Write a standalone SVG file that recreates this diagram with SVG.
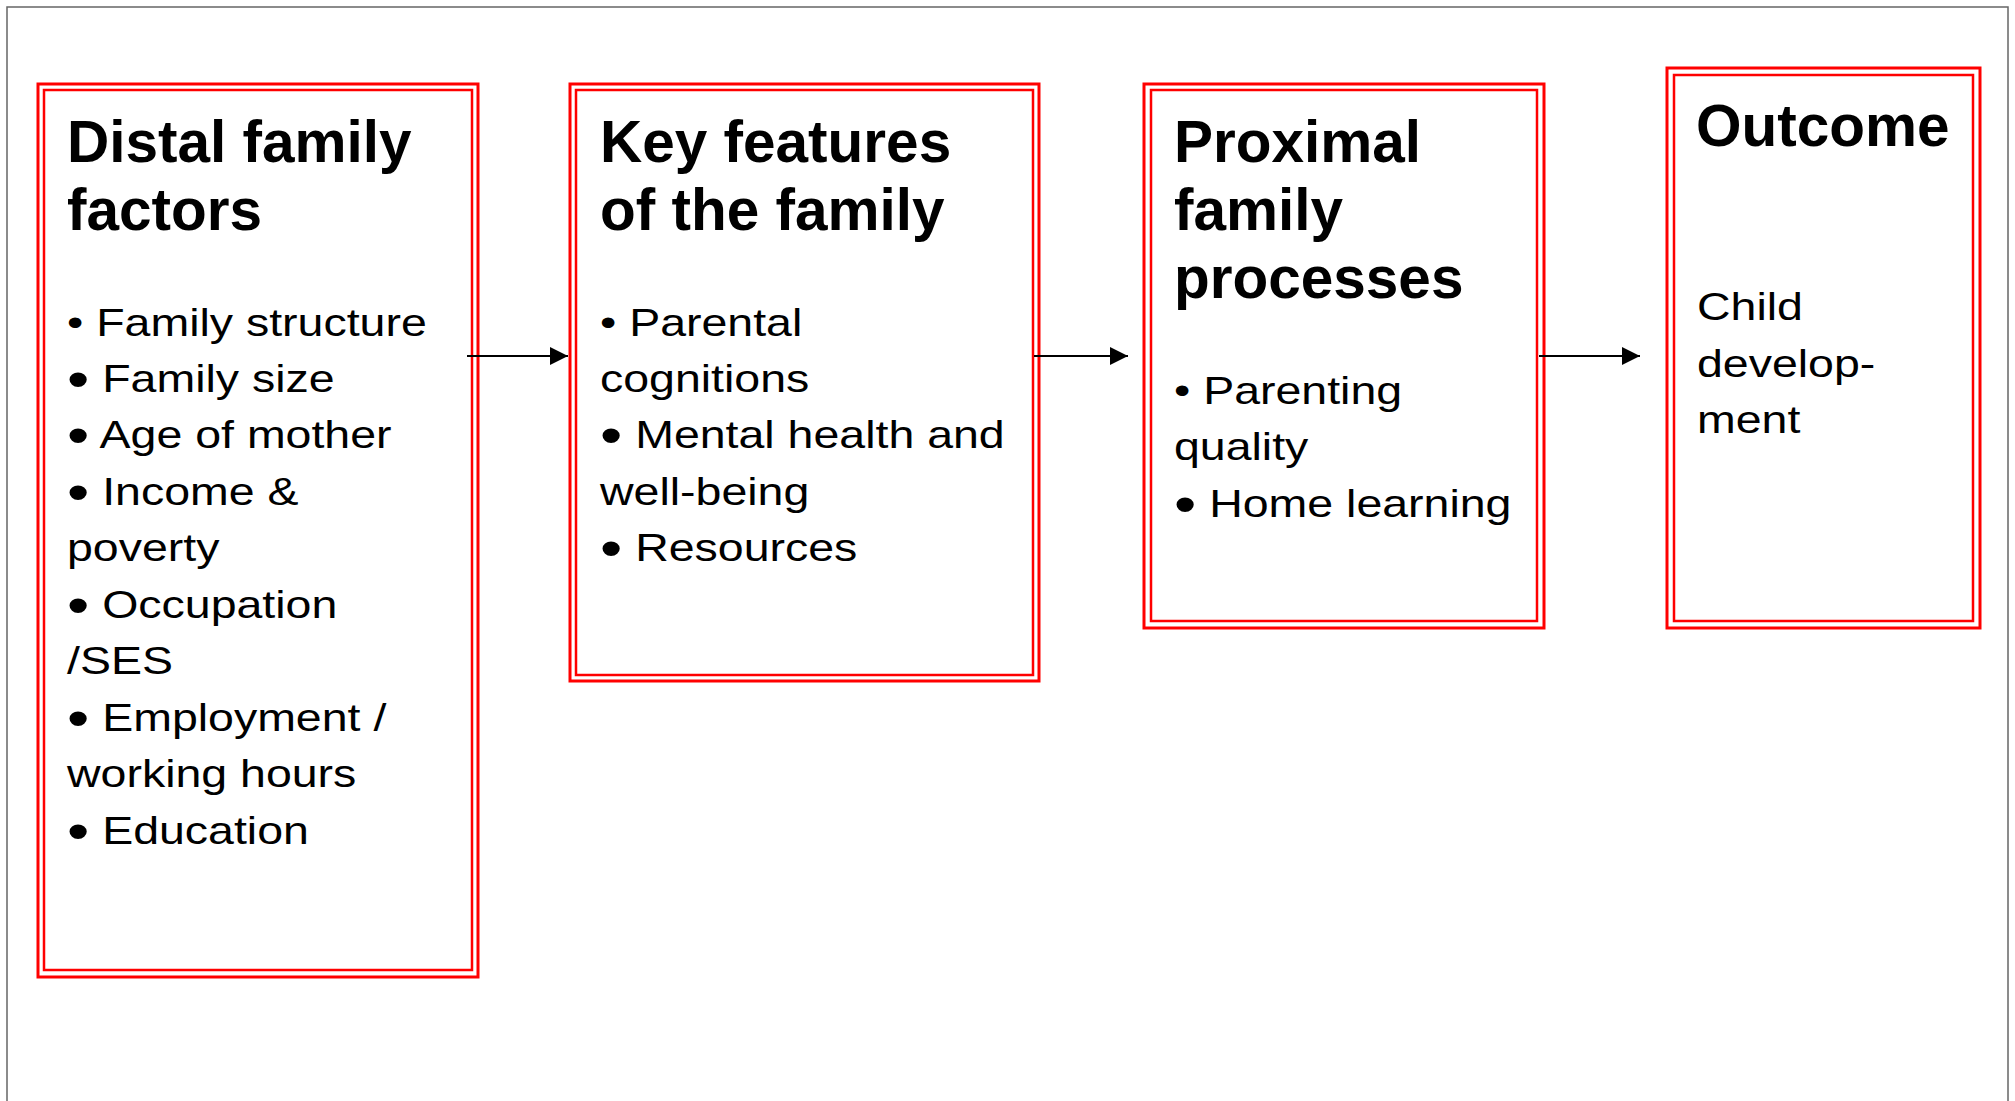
<svg xmlns="http://www.w3.org/2000/svg" width="2015" height="1101" viewBox="0 0 2015 1101">
<style>
.o{fill:none;stroke:#ff0000;stroke-width:3}
.i{fill:none;stroke:#ff0000;stroke-width:2.5}
.t{font-family:"Liberation Sans",Arial,sans-serif;font-weight:bold;font-size:58.5px;fill:#000}
.b{font-family:"Liberation Sans",Arial,sans-serif;font-size:39.5px;fill:#000}
.bl{font-size:54px}
.c{stroke:#000;stroke-width:2;fill:none}
</style>
<defs>
<marker id="ah" markerUnits="userSpaceOnUse" markerWidth="18" markerHeight="18" viewBox="0 0 16 16" refX="16" refY="8" orient="auto">
<path d="M0,0 L16,8 L0,16 Z" fill="#000"/>
</marker>
</defs>
<rect width="2015" height="1101" fill="#fff"/>
<rect x="7" y="7" width="2001" height="1110" fill="none" stroke="#666" stroke-width="1.5"/>
<g id="distal">
<rect class="o" x="38" y="84" width="440" height="893"/>
<rect class="i" x="44" y="90" width="428" height="880"/>
<text class="t" x="67" y="162">Distal family</text>
<text class="t" x="67" y="230">factors</text>
<text class="b" transform="translate(67,0) scale(1.177,1)">
<tspan x="0" y="336">• Family structure</tspan>
<tspan x="0" y="392"><tspan class="bl" dy="6">•</tspan><tspan dy="-6"> Family size</tspan></tspan>
<tspan x="0" y="448"><tspan class="bl" dy="6">•</tspan><tspan dy="-6"> Age of mother</tspan></tspan>
<tspan x="0" y="505"><tspan class="bl" dy="6">•</tspan><tspan dy="-6"> Income &amp;</tspan></tspan>
<tspan x="0" y="561">poverty</tspan>
<tspan x="0" y="618"><tspan class="bl" dy="6">•</tspan><tspan dy="-6"> Occupation</tspan></tspan>
<tspan x="0" y="674">/SES</tspan>
<tspan x="0" y="731"><tspan class="bl" dy="6">•</tspan><tspan dy="-6"> Employment /</tspan></tspan>
<tspan x="0" y="787">working hours</tspan>
<tspan x="0" y="844"><tspan class="bl" dy="6">•</tspan><tspan dy="-6"> Education</tspan></tspan>
</text>
</g>
<g id="key">
<rect class="o" x="570" y="84" width="469" height="597"/>
<rect class="i" x="576" y="90" width="457" height="585"/>
<text class="t" x="600" y="162">Key features</text>
<text class="t" x="600" y="230">of the family</text>
<text class="b" transform="translate(600,0) scale(1.177,1)">
<tspan x="0" y="336">• Parental</tspan>
<tspan x="0" y="392">cognitions</tspan>
<tspan x="0" y="448"><tspan class="bl" dy="6">•</tspan><tspan dy="-6"> Mental health and</tspan></tspan>
<tspan x="0" y="505">well-being</tspan>
<tspan x="0" y="561"><tspan class="bl" dy="6">•</tspan><tspan dy="-6"> Resources</tspan></tspan>
</text>
</g>
<g id="proximal">
<rect class="o" x="1144" y="84" width="400" height="544"/>
<rect class="i" x="1151" y="90" width="386" height="531"/>
<text class="t" x="1174" y="162">Proximal</text>
<text class="t" x="1174" y="230">family</text>
<text class="t" x="1174" y="298">processes</text>
<text class="b" transform="translate(1174,0) scale(1.177,1)">
<tspan x="0" y="404">• Parenting</tspan>
<tspan x="0" y="460">quality</tspan>
<tspan x="0" y="517"><tspan class="bl" dy="6">•</tspan><tspan dy="-6"> Home learning</tspan></tspan>
</text>
</g>
<g id="outcome">
<rect class="o" x="1667" y="68" width="313" height="560"/>
<rect class="i" x="1674" y="75" width="299" height="546"/>
<text class="t" x="1696" y="146">Outcome</text>
<text class="b" transform="translate(1697,0) scale(1.177,1)">
<tspan x="0" y="320">Child</tspan>
<tspan x="0" y="377">develop-</tspan>
<tspan x="0" y="433">ment</tspan>
</text>
</g>
<g id="connectors">
<line class="c" x1="467" y1="356" x2="568" y2="356" marker-end="url(#ah)"/>
<line class="c" x1="1034" y1="356" x2="1128" y2="356" marker-end="url(#ah)"/>
<line class="c" x1="1539" y1="356" x2="1640" y2="356" marker-end="url(#ah)"/>
</g>
</svg>
